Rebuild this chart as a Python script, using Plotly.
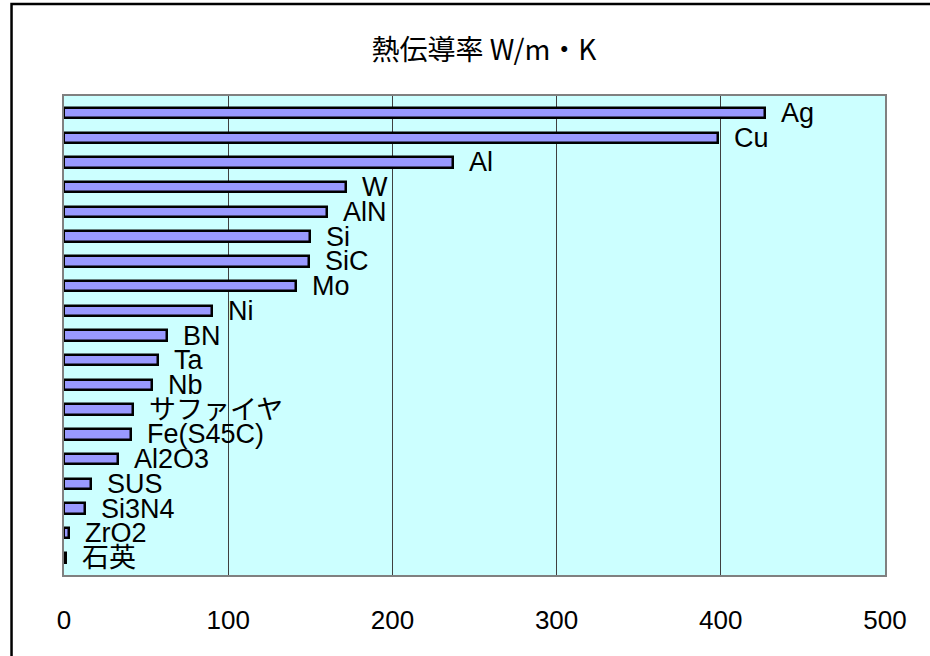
import plotly.graph_objects as go

# Thermal conductivity of materials (W/m·K), listed top to bottom
materials = ["Ag", "Cu", "Al", "W", "AlN", "Si", "SiC", "Mo", "Ni", "BN", "Ta", "Nb",
             "サファイヤ", "Fe(S45C)", "Al2O3", "SUS", "Si3N4", "ZrO2", "石英"]
conductivity = [427, 398, 237, 172, 160, 150, 149, 141, 90, 63, 57, 53.7,
                42, 41, 33, 16.3, 13, 3, 1.2]
x_ticks = [0, 100, 200, 300, 400, 500]

W, H = 930, 656
L, R, T, B = 63.5, 45, 96, 81
pw, ph = W - L - R, H - T - B

label_font = dict(family="Liberation Sans, Arial, Noto Sans CJK JP", size=27, color="black")

fig = go.Figure()
fig.add_trace(go.Bar(
    x=conductivity,
    y=materials,
    orientation="h",
    width=0.42,
    marker=dict(color="#9999FF", line=dict(color="black", width=2.5)),
    hoverinfo="x+y",
))

# Material names sit just past the end of each bar
for name, val in zip(materials, conductivity):
    fig.add_annotation(
        x=val, y=name, xref="x", yref="y",
        text=name, showarrow=False,
        xanchor="left", yanchor="middle",
        xshift=14, font=label_font,
    )

# Outer chart frame
fig.add_shape(
    type="rect", xref="paper", yref="paper",
    x0=(11 - L) / pw, x1=1.5,
    y0=-0.5, y1=(H - B - 4) / ph,
    line=dict(color="black", width=2.5), fillcolor="rgba(0,0,0,0)",
    layer="below",
)

fig.update_layout(
    width=W, height=H,
    margin=dict(l=L, r=R, t=T, b=B, pad=0),
    paper_bgcolor="white",
    plot_bgcolor="#CCFFFF",
    showlegend=False,
    bargap=0,
    title=dict(
        text="熱伝導率 W/m・K",
        font=dict(family="Noto Sans CJK JP", size=28, color="black"),
        xref="container", yref="container",
        x=484 / W, y=1 - 50 / H,
        xanchor="center", yanchor="middle",
    ),
    xaxis=dict(
        range=[0, 500],
        tickvals=x_ticks,
        ticktext=[str(v) for v in x_ticks],
        tickfont=dict(family="Liberation Sans, Arial", size=26, color="black"),
        ticks="",
        ticklabelstandoff=21,
        showgrid=True, gridcolor="#404040", gridwidth=1,
        zeroline=False,
        showline=True, linecolor="#808080", linewidth=2, mirror=True,
        fixedrange=True,
    ),
    yaxis=dict(
        autorange="reversed",
        showticklabels=False,
        ticks="",
        showgrid=False,
        zeroline=False,
        showline=True, linecolor="#808080", linewidth=2, mirror=True,
        fixedrange=True,
    ),
)

fig.write_html("out.html")
